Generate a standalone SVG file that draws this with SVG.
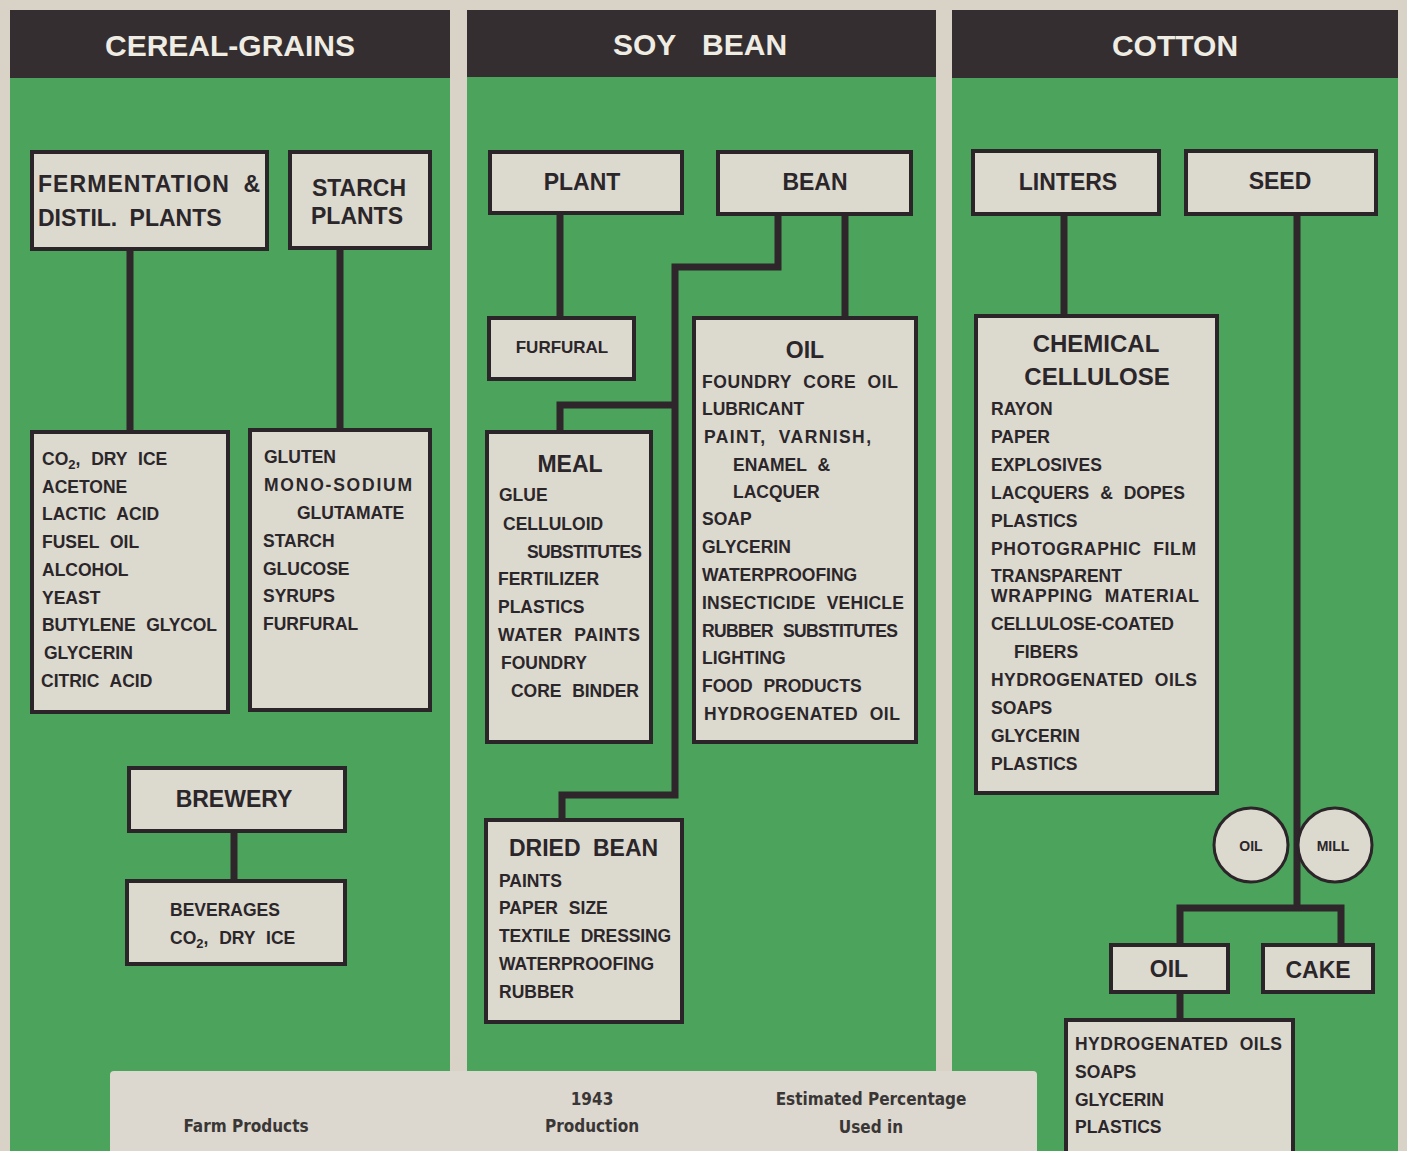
<svg xmlns="http://www.w3.org/2000/svg" width="1407" height="1151" viewBox="0 0 1407 1151">
<style>
.bg{fill:#d8d3c6}
.hd{fill:#342e30}
.gr{fill:#4ca35b}
.h{font-family:"Liberation Sans",Arial,sans-serif;font-weight:bold;font-size:30px;fill:#efece3;text-anchor:middle}
.box{fill:#dcd9cf;stroke:#2b2428;stroke-width:4}
.t{font-family:"Liberation Sans",Arial,sans-serif;font-weight:bold;font-size:23px;fill:#2b2629;word-spacing:6px}
.c{text-anchor:middle}
.s{font-family:"Liberation Sans",Arial,sans-serif;font-weight:bold;font-size:17.5px;fill:#2b2629;word-spacing:6px}
.ln{stroke:#2e262a;stroke-width:7;fill:none;stroke-linejoin:miter;stroke-linecap:butt}
.circ{fill:#dcd9cf;stroke:#2b2428;stroke-width:3}
.ct{font-family:"Liberation Sans",Arial,sans-serif;font-weight:bold;font-size:14px;fill:#2b2629;text-anchor:middle}
.tb{font-family:"DejaVu Sans Condensed","DejaVu Sans",sans-serif;font-weight:bold;font-size:17px;fill:#3a3636;text-anchor:middle}
</style>
<rect class="bg" x="0" y="0" width="1407" height="1151"/>
<!-- panels -->
<g id="panel-cereal">
<rect class="gr" x="10" y="76" width="440" height="1075"/>
<rect class="hd" x="10" y="10" width="440" height="68"/>
<text class="h" x="230" y="56">CEREAL-GRAINS</text>
</g>
<g id="panel-soy">
<rect class="gr" x="467" y="76" width="469" height="1075"/>
<rect class="hd" x="467" y="10" width="469" height="67"/>
<text class="h" x="700" y="55" style="word-spacing:18px">SOY BEAN</text>
</g>
<g id="panel-cotton">
<rect class="gr" x="952" y="76" width="446" height="1075"/>
<rect class="hd" x="952" y="10" width="446" height="68"/>
<text class="h" x="1175" y="56">COTTON</text>
</g>
<!-- connectors -->
<g id="connectors">
<path class="ln" d="M130 249V432"/>
<path class="ln" d="M340 248V430"/>
<path class="ln" d="M234 831V881"/>
<path class="ln" d="M560 213V318"/>
<path class="ln" d="M778 214V267H675V795H562V820"/>
<path class="ln" d="M675 405H560V432"/>
<path class="ln" d="M845 214V318"/>
<path class="ln" d="M1064 214V316"/>
<path class="ln" d="M1297 214V908"/>
<path class="ln" d="M1180 945V908H1341V945"/>
<path class="ln" d="M1180 992V1020"/>
</g>
<!-- cereal nodes -->
<g id="n-fermentation">
<rect class="box" x="32" y="152" width="235" height="97"/>
<text class="t" x="38" y="192" textLength="222">FERMENTATION &amp;</text>
<text class="t" x="38" y="226">DISTIL. PLANTS</text>
</g>
<g id="n-starch">
<rect class="box" x="290" y="152" width="140" height="96"/>
<text class="t c" x="359" y="196">STARCH</text>
<text class="t c" x="357" y="224">PLANTS</text>
</g>
<g id="n-ferm-products">
<rect class="box" x="32" y="432" width="196" height="280"/>
<text class="s" x="42" y="465">CO<tspan font-size="13" dy="4">2</tspan><tspan dy="-4">, DRY ICE</tspan></text>
<text class="s" x="42" y="493">ACETONE</text>
<text class="s" x="42" y="520">LACTIC ACID</text>
<text class="s" x="42" y="548">FUSEL OIL</text>
<text class="s" x="42" y="576">ALCOHOL</text>
<text class="s" x="42" y="604">YEAST</text>
<text class="s" x="42" y="631" textLength="175">BUTYLENE GLYCOL</text>
<text class="s" x="44" y="659">GLYCERIN</text>
<text class="s" x="41" y="687">CITRIC ACID</text>
</g>
<g id="n-starch-products">
<rect class="box" x="250" y="430" width="180" height="280"/>
<text class="s" x="264" y="463">GLUTEN</text>
<text class="s" x="264" y="491" textLength="148">MONO-SODIUM</text>
<text class="s" x="297" y="519">GLUTAMATE</text>
<text class="s" x="263" y="547">STARCH</text>
<text class="s" x="263" y="575">GLUCOSE</text>
<text class="s" x="263" y="602">SYRUPS</text>
<text class="s" x="263" y="630">FURFURAL</text>
</g>
<g id="n-brewery">
<rect class="box" x="129" y="768" width="216" height="63"/>
<text class="t c" x="234" y="807">BREWERY</text>
</g>
<g id="n-beverages">
<rect class="box" x="127" y="881" width="218" height="83"/>
<text class="s" x="170" y="916">BEVERAGES</text>
<text class="s" x="170" y="944">CO<tspan font-size="13" dy="4">2</tspan><tspan dy="-4">, DRY ICE</tspan></text>
</g>
<!-- soy nodes -->
<g id="n-plant">
<rect class="box" x="490" y="152" width="192" height="61"/>
<text class="t c" x="582" y="190">PLANT</text>
</g>
<g id="n-bean">
<rect class="box" x="718" y="152" width="193" height="62"/>
<text class="t c" x="815" y="190">BEAN</text>
</g>
<g id="n-furfural">
<rect class="box" x="489" y="318" width="145" height="61"/>
<text class="s c" x="562" y="353" style="font-size:17px">FURFURAL</text>
</g>
<g id="n-oil-soy">
<rect class="box" x="694" y="318" width="222" height="424"/>
<text class="t c" x="805" y="358">OIL</text>
<text class="s" x="702" y="388" textLength="196">FOUNDRY CORE OIL</text>
<text class="s" x="702" y="415">LUBRICANT</text>
<text class="s" x="704" y="443" textLength="167">PAINT, VARNISH,</text>
<text class="s" x="733" y="471">ENAMEL &amp;</text>
<text class="s" x="733" y="498">LACQUER</text>
<text class="s" x="702" y="525">SOAP</text>
<text class="s" x="702" y="553">GLYCERIN</text>
<text class="s" x="702" y="581">WATERPROOFING</text>
<text class="s" x="702" y="609" textLength="202">INSECTICIDE VEHICLE</text>
<text class="s" x="702" y="637" textLength="196">RUBBER SUBSTITUTES</text>
<text class="s" x="702" y="664">LIGHTING</text>
<text class="s" x="702" y="692">FOOD PRODUCTS</text>
<text class="s" x="704" y="720" textLength="196">HYDROGENATED OIL</text>
</g>
<g id="n-meal">
<rect class="box" x="487" y="432" width="164" height="310"/>
<text class="t c" x="570" y="472">MEAL</text>
<text class="s" x="499" y="501">GLUE</text>
<text class="s" x="503" y="530">CELLULOID</text>
<text class="s" x="527" y="558" textLength="115">SUBSTITUTES</text>
<text class="s" x="498" y="585">FERTILIZER</text>
<text class="s" x="498" y="613">PLASTICS</text>
<text class="s" x="498" y="641" textLength="142">WATER PAINTS</text>
<text class="s" x="501" y="669">FOUNDRY</text>
<text class="s" x="511" y="697" textLength="128">CORE BINDER</text>
</g>
<g id="n-dried-bean">
<rect class="box" x="486" y="820" width="196" height="202"/>
<text class="t" x="509" y="856">DRIED BEAN</text>
<text class="s" x="499" y="887">PAINTS</text>
<text class="s" x="499" y="914">PAPER SIZE</text>
<text class="s" x="499" y="942" textLength="172">TEXTILE DRESSING</text>
<text class="s" x="499" y="970">WATERPROOFING</text>
<text class="s" x="499" y="998">RUBBER</text>
</g>
<!-- cotton nodes -->
<g id="n-linters">
<rect class="box" x="973" y="151" width="186" height="63"/>
<text class="t c" x="1068" y="190">LINTERS</text>
</g>
<g id="n-seed">
<rect class="box" x="1186" y="151" width="190" height="63"/>
<text class="t c" x="1280" y="189">SEED</text>
</g>
<g id="n-cellulose">
<rect class="box" x="976" y="316" width="241" height="477"/>
<text class="t c" x="1096" y="352" style="font-size:24px">CHEMICAL</text>
<text class="t c" x="1097" y="385" style="font-size:24px">CELLULOSE</text>
<text class="s" x="991" y="415">RAYON</text>
<text class="s" x="991" y="443">PAPER</text>
<text class="s" x="991" y="471">EXPLOSIVES</text>
<text class="s" x="991" y="499" textLength="194">LACQUERS &amp; DOPES</text>
<text class="s" x="991" y="527">PLASTICS</text>
<text class="s" x="991" y="555" textLength="205">PHOTOGRAPHIC FILM</text>
<text class="s" x="991" y="582">TRANSPARENT</text>
<text class="s" x="991" y="602" textLength="208">WRAPPING MATERIAL</text>
<text class="s" x="991" y="630" textLength="183">CELLULOSE-COATED</text>
<text class="s" x="1014" y="658">FIBERS</text>
<text class="s" x="991" y="686" textLength="206">HYDROGENATED OILS</text>
<text class="s" x="991" y="714">SOAPS</text>
<text class="s" x="991" y="742">GLYCERIN</text>
<text class="s" x="991" y="770">PLASTICS</text>
</g>
<g id="n-oil-mill">
<circle class="circ" cx="1251" cy="845" r="37"/>
<circle class="circ" cx="1335" cy="845" r="37"/>
<text class="ct" x="1251" y="851">OIL</text>
<text class="ct" x="1333" y="851">MILL</text>
</g>
<g id="n-oil-cotton">
<rect class="box" x="1111" y="945" width="117" height="47"/>
<text class="t c" x="1169" y="977">OIL</text>
</g>
<g id="n-cake">
<rect class="box" x="1263" y="945" width="110" height="47"/>
<text class="t c" x="1318" y="978">CAKE</text>
</g>
<g id="n-oil-products">
<rect class="box" x="1066" y="1020" width="227" height="140"/>
<text class="s" x="1075" y="1050" textLength="207">HYDROGENATED OILS</text>
<text class="s" x="1075" y="1078">SOAPS</text>
<text class="s" x="1075" y="1106">GLYCERIN</text>
<text class="s" x="1075" y="1133">PLASTICS</text>
</g>
<!-- table -->
<g id="table">
<rect x="110" y="1071" width="927" height="100" rx="4" fill="#dcd8cf"/>
<text class="tb" x="246" y="1132">Farm Products</text>
<text class="tb" x="592" y="1105">1943</text>
<text class="tb" x="592" y="1132">Production</text>
<text class="tb" x="871" y="1105">Estimated Percentage</text>
<text class="tb" x="871" y="1133">Used in</text>
</g>
</svg>
